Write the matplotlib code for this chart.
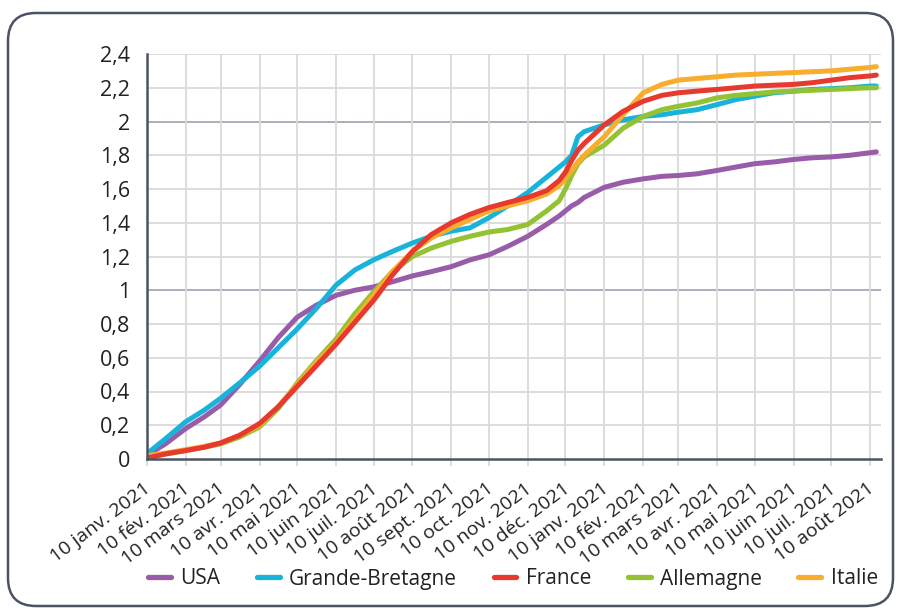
import datetime as dt
import matplotlib
matplotlib.use('Agg')
import matplotlib.pyplot as plt
from matplotlib.patches import FancyBboxPatch
from matplotlib.transforms import IdentityTransform, ScaledTranslation

plt.rcParams['font.family'] = ['Open Sans', 'DejaVu Sans']

# Dates des relevés
dates = ['2021-01-10', '2021-01-25', '2021-02-10', '2021-02-25', '2021-03-10', '2021-03-25',
         '2021-04-10', '2021-04-25', '2021-05-10', '2021-05-25', '2021-06-10', '2021-06-25',
         '2021-07-10', '2021-07-25', '2021-08-10', '2021-08-25', '2021-09-10', '2021-09-25',
         '2021-10-10', '2021-10-25', '2021-11-10', '2021-11-25', '2021-12-05', '2021-12-10',
         '2021-12-15', '2021-12-20', '2021-12-25', '2022-01-10', '2022-01-25', '2022-02-10',
         '2022-02-25', '2022-03-10', '2022-03-25', '2022-04-10', '2022-04-25', '2022-05-10',
         '2022-05-25', '2022-06-10', '2022-06-25', '2022-07-10', '2022-07-25', '2022-08-10',
         '2022-08-15']

usa = [0.02, 0.09, 0.18, 0.25, 0.32, 0.44, 0.58, 0.72, 0.84, 0.91, 0.97, 1.00,
       1.02, 1.05, 1.085, 1.11, 1.14, 1.18, 1.21, 1.26, 1.32, 1.39, 1.44, 1.47,
       1.50, 1.52, 1.55, 1.61, 1.64, 1.66, 1.675, 1.68, 1.69, 1.71, 1.73, 1.75,
       1.76, 1.775, 1.785, 1.79, 1.80, 1.815, 1.82]
grande_bretagne = [0.03, 0.12, 0.22, 0.29, 0.36, 0.45, 0.55, 0.66, 0.77, 0.89, 1.03, 1.12,
                   1.18, 1.23, 1.28, 1.32, 1.35, 1.37, 1.43, 1.50, 1.58, 1.67, 1.73, 1.76,
                   1.80, 1.91, 1.94, 1.98, 2.01, 2.03, 2.04, 2.055, 2.07, 2.10, 2.13, 2.15,
                   2.17, 2.18, 2.19, 2.195, 2.20, 2.21, 2.21]
france = [0.005, 0.03, 0.05, 0.07, 0.095, 0.14, 0.21, 0.31, 0.43, 0.55, 0.68, 0.81,
          0.94, 1.09, 1.23, 1.33, 1.40, 1.45, 1.49, 1.52, 1.55, 1.59, 1.65, 1.70,
          1.77, 1.83, 1.87, 1.98, 2.06, 2.12, 2.155, 2.17, 2.18, 2.19, 2.20, 2.21,
          2.215, 2.22, 2.23, 2.245, 2.26, 2.27, 2.275]
allemagne = [0.01, 0.03, 0.05, 0.07, 0.09, 0.13, 0.19, 0.30, 0.45, 0.58, 0.71, 0.86,
             0.99, 1.11, 1.20, 1.25, 1.29, 1.32, 1.345, 1.36, 1.39, 1.47, 1.53, 1.60,
             1.68, 1.75, 1.79, 1.86, 1.96, 2.03, 2.07, 2.09, 2.11, 2.14, 2.155, 2.165,
             2.175, 2.18, 2.185, 2.19, 2.195, 2.20, 2.20]
italie = [0.02, 0.035, 0.055, 0.075, 0.095, 0.14, 0.20, 0.31, 0.44, 0.57, 0.69, 0.83,
          0.97, 1.11, 1.23, 1.31, 1.37, 1.42, 1.47, 1.50, 1.53, 1.57, 1.62, 1.66,
          1.71, 1.76, 1.80, 1.91, 2.04, 2.17, 2.22, 2.245, 2.255, 2.265, 2.275, 2.28,
          2.285, 2.29, 2.295, 2.30, 2.31, 2.32, 2.325]

tick_dates = ['2021-01-10', '2021-02-10', '2021-03-10', '2021-04-10', '2021-05-10',
              '2021-06-10', '2021-07-10', '2021-08-10', '2021-09-10', '2021-10-10',
              '2021-11-10', '2021-12-10', '2022-01-10', '2022-02-10', '2022-03-10',
              '2022-04-10', '2022-05-10', '2022-06-10', '2022-07-10', '2022-08-10']
tick_labels = ['10 janv. 2021', '10 fév. 2021', '10 mars 2021', '10 avr. 2021',
               '10 mai 2021', '10 juin 2021', '10 juil. 2021', '10 août 2021',
               '10 sept. 2021', '10 oct. 2021', '10 nov. 2021', '10 déc. 2021',
               '10 janv. 2021', '10 fév. 2021', '10 mars 2021', '10 avr. 2021',
               '10 mai 2021', '10 juin 2021', '10 juil. 2021', '10 août 2021']
y_ticks = [0, 0.2, 0.4, 0.6, 0.8, 1, 1.2, 1.4, 1.6, 1.8, 2, 2.2, 2.4]

x = [dt.datetime.strptime(d, '%Y-%m-%d') for d in dates]
xt = [dt.datetime.strptime(d, '%Y-%m-%d') for d in tick_dates]

fig = plt.figure(figsize=(8.97, 6.08), dpi=100)
ax = fig.add_axes([146.7 / 897, 149 / 608, 734 / 897, 405 / 608])

# cadre arrondi autour du graphique
cadre = FancyBboxPatch((8, 2), 885, 593, boxstyle='round,pad=0,rounding_size=28',
                       transform=IdentityTransform(), facecolor='white',
                       edgecolor='#4b5363', linewidth=1.8, zorder=-10)
fig.patches.append(cadre)

grid_col = '#dadada'
for yv in y_ticks[1:]:
    c = '#a3a9b3' if yv in (1, 2) else grid_col
    ax.axhline(yv, color=c, lw=1.3, zorder=0)
for d in xt[1:]:
    ax.axvline(d, color=grid_col, lw=1.3, zorder=0)

series = [
    (usa, '#985ca8', 'USA'),
    (grande_bretagne, '#18b3da', 'Grande-Bretagne'),
    (allemagne, '#93c232', 'Allemagne'),
    (italie, '#f8ad2f', 'Italie'),
    (france, '#e8392f', 'France'),
]
lines = {}
for vals, col, lab in series:
    l, = ax.plot(x, vals, color=col, lw=3.6, solid_capstyle='round',
                 solid_joinstyle='round', label=lab, zorder=3)
    lines[lab] = l

ax.set_xlim(dt.datetime(2021, 1, 10), dt.datetime(2022, 8, 18, 12))
ax.set_ylim(0, 2.4)

ax.set_yticks(y_ticks)
ax.set_yticklabels([('%g' % v).replace('.', ',') for v in y_ticks])
ax.tick_params(axis='y', length=0, pad=12, labelsize=15.5, labelcolor='#222222')

ax.set_xticks(xt)
ax.set_xticklabels(tick_labels, rotation=37, ha='right', va='center',
                   rotation_mode='anchor')
ax.tick_params(axis='x', length=5, width=1.3, color=grid_col, pad=15,
               labelsize=14, labelcolor='#222222')
off = ScaledTranslation(1.5 / 72, 0, fig.dpi_scale_trans)
for lbl in ax.get_xticklabels():
    lbl.set_transform(lbl.get_transform() + off)

for s in ('top', 'right'):
    ax.spines[s].set_visible(False)
for s in ('left', 'bottom'):
    ax.spines[s].set_color('#4b5363')
    ax.spines[s].set_linewidth(1.8)
    ax.spines[s].set_zorder(4)

order = ['USA', 'Grande-Bretagne', 'France', 'Allemagne', 'Italie']
leg = fig.legend([lines[k] for k in order], order, loc='center',
                 bbox_to_anchor=(513 / 897, 29 / 608), ncol=5, frameon=False,
                 fontsize=15, handlelength=1.1, handletextpad=0.45,
                 columnspacing=1.75, labelcolor='#222222')
for h in leg.get_lines():
    h.set_linewidth(3.8)

fig.savefig('out.png', dpi=100)
